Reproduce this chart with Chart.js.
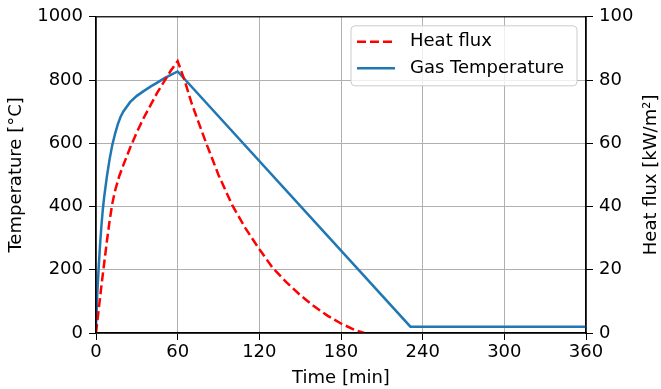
<!DOCTYPE html>
<html>
<head>
<meta charset="utf-8">
<script src="https://cdn.jsdelivr.net/npm/chart.js@4"></script>
<style>
  html, body { margin: 0; padding: 0; background: #fff; }
  #wrap { width: 661px; height: 389px; }
</style>
</head>
<body>
<div id="wrap"><canvas id="chart"></canvas></div>
<script>
// values
const fluxTime = [0, 2, 4, 6, 8, 10, 12, 14, 17, 20, 25, 30, 35, 40, 45, 50, 55, 60,
  65, 70, 75, 81, 90, 100, 110, 120, 130, 140, 150, 160, 170, 180, 190, 197];
const fluxValues = [0, 7.5, 15, 22, 29, 35.5, 41, 45, 49.5, 53, 58.5, 63.5, 68, 72, 76, 79.5, 83, 86,
  80, 73, 67, 60, 50, 40.5, 33, 26.5, 20.5, 16, 12, 8.5, 5.5, 3, 1, 0];

const tempTime = [0, 1, 2, 3, 4, 5, 6, 8, 10, 12, 14, 16, 18, 20, 25, 30, 35, 40, 45, 50, 55, 60, 231, 360];
const tempValues = [20, 130, 210, 280, 340, 390, 430, 495, 550, 595, 630, 660, 683, 700, 730, 750, 765, 779, 792, 805, 816, 827, 20, 20];

const xTicks = [0, 60, 120, 180, 240, 300, 360];
const rightTitle = 'Heat flux [kW/m²]';

const pairs = (xs, ys) => xs.map((x, i) => ({ x: x, y: ys[i] }));

Chart.defaults.font.family = 'DejaVu Sans';
Chart.defaults.font.size = 18;
Chart.defaults.color = '#000';

const frame = {
  id: 'frame',
  afterDraw(chart) {
    const { ctx, chartArea: a } = chart;
    ctx.save();
    ctx.strokeStyle = '#000';
    ctx.lineWidth = 1.2;
    ctx.strokeRect(a.left, a.top, a.right - a.left, a.bottom - a.top);

    // right axis title, reading bottom to top
    ctx.save();
    ctx.translate(651, (a.top + a.bottom) / 2);
    ctx.rotate(-Math.PI / 2);
    ctx.font = '18px "DejaVu Sans"';
    ctx.fillStyle = '#000';
    ctx.textAlign = 'center';
    ctx.textBaseline = 'middle';
    ctx.fillText(rightTitle, 0, 0);
    ctx.restore();

    // legend box, top right inside the plot
    const x0 = a.left + 255, y0 = a.top + 9, w = 226, h = 60;
    ctx.fillStyle = 'rgba(255,255,255,0.8)';
    ctx.strokeStyle = '#cccccc';
    ctx.lineWidth = 1;
    ctx.beginPath();
    ctx.roundRect(x0, y0, w, h, 4);
    ctx.fill();
    ctx.stroke();
    ctx.font = '18px "DejaVu Sans"';
    ctx.textBaseline = 'middle';
    chart.data.datasets.forEach((ds, i) => {
      const y = y0 + 16 + i * 26.5;
      ctx.strokeStyle = ds.borderColor;
      ctx.lineWidth = ds.borderWidth;
      ctx.setLineDash(ds.borderDash || []);
      ctx.beginPath();
      ctx.moveTo(x0 + 6, y);
      ctx.lineTo(x0 + 44, y);
      ctx.stroke();
      ctx.setLineDash([]);
      ctx.fillStyle = '#000';
      ctx.fillText(ds.label, x0 + 59, y);
    });
    ctx.restore();
  }
};

new Chart(document.getElementById('chart'), {
  type: 'line',
  data: {
    datasets: [{
      label: 'Heat flux',
      data: pairs(fluxTime, fluxValues),
      yAxisID: 'y2',
      borderColor: '#ff0000',
      borderWidth: 2.5,
      borderDash: [9, 4],
      pointRadius: 0,
      tension: 0,
      fill: false
    }, {
      label: 'Gas Temperature',
      data: pairs(tempTime, tempValues),
      yAxisID: 'y',
      borderColor: '#1f77b4',
      borderWidth: 2.5,
      pointRadius: 0,
      tension: 0,
      fill: false
    }]
  },
  options: {
    responsive: true,
    maintainAspectRatio: false,
    animation: false,
    layout: { padding: { top: 14 } },
    plugins: {
      legend: { display: false },
      tooltip: { enabled: false }
    },
    scales: {
      x: {
        type: 'linear',
        min: 0,
        max: 360,
        afterBuildTicks: (s) => { s.ticks = xTicks.map(v => ({ value: v })); },
        afterFit: (s) => { s.height = 56; },
        ticks: { padding: 2, maxRotation: 0, callback: (v) => String(v) },
        grid: { color: '#b0b0b0', lineWidth: 1, tickColor: '#000', tickLength: 7 },
        border: { color: '#000', width: 1.2 },
        title: { display: true, text: 'Time [min]', padding: 0 }
      },
      y: {
        position: 'left',
        min: 0,
        max: 1000,
        ticks: { stepSize: 200, padding: 6, callback: (v) => String(v) },
        afterFit: (s) => { s.width = 96; },
        grid: { color: '#b0b0b0', lineWidth: 1, tickColor: '#000', tickLength: 7 },
        border: { color: '#000', width: 1.2 },
        title: { display: true, text: 'Temperature [°C]', padding: { top: 6, bottom: 0 } }
      },
      y2: {
        position: 'right',
        min: 0,
        max: 100,
        ticks: { stepSize: 20, padding: 6, callback: (v) => String(v) },
        afterFit: (s) => { s.width = 75; },
        grid: { drawOnChartArea: false, tickColor: '#000', tickLength: 7 },
        border: { color: '#000', width: 1.2 },
        title: { display: false }
      }
    }
  },
  plugins: [frame]
});
</script>
</body>
</html>
